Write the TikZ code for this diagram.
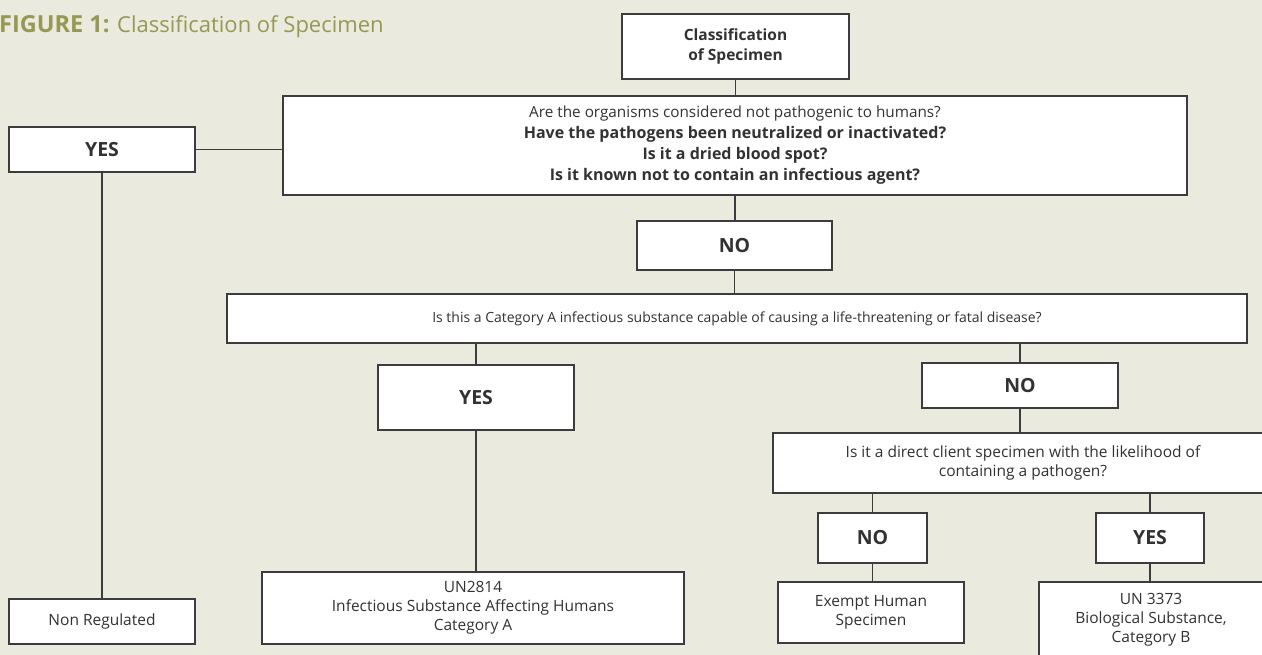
\documentclass[tikz,border=0pt]{standalone}
\usepackage{fontspec}
\setmainfont{Open Sans}
\definecolor{bgc}{RGB}{235,234,222}
\definecolor{linec}{RGB}{60,60,60}
\definecolor{textc}{RGB}{50,50,50}
\definecolor{titlec}{RGB}{150,152,84}
\tikzset{
  box/.style={draw=linec, fill=white, line width=1.1pt, inner sep=0pt, align=center, text=textc,
    font=\fontsize{15.5}{19}\selectfont},
  boldbox/.style={box, font=\fontsize{15.5}{20.5}\selectfont\bfseries},
  answer/.style={box, font=\fontsize{19.5}{22}\selectfont\bfseries},
  conn/.style={draw=linec, line width=1.1pt}
}
\begin{document}
\begin{tikzpicture}[x=1pt,y=-1pt]
\fill[bgc] (0,0) rectangle (1262,655);
\useasboundingbox (0,0) rectangle (1262,655);
\clip (0,0) rectangle (1262,655);

\node[anchor=base west, text=titlec, font=\fontsize{22}{26}\selectfont, inner sep=0pt] (title) at (-1,33)
  {{\fontsize{23.5}{26}\selectfont\bfseries FIGURE 1:} Classification of Specimen};

\node[boldbox, minimum width=227, minimum height=65] (cls) at (735.5,46.5) {Classification\\of Specimen};
\node[box, minimum width=904, minimum height=99, font=\fontsize{15.3}{21}\selectfont] (q1) at (735,145.5)
  {Are the organisms considered not pathogenic to humans?\\
   {\fontsize{16}{21}\selectfont\bfseries Have the pathogens been neutralized or inactivated?}\\
   {\fontsize{16}{21}\selectfont\bfseries Is it a dried blood spot?}\\
   {\fontsize{16}{21}\selectfont\bfseries Is it known not to contain an infectious agent?}};
\node[answer, minimum width=186, minimum height=45] (yesL) at (102,149.5) {YES};
\node[box, minimum width=186, minimum height=45] (nonreg) at (102,621.5) {Non Regulated};
\node[answer, minimum width=195, minimum height=49] (no1) at (734.5,245.5) {NO};
\node[box, minimum width=1020, minimum height=49, font=\fontsize{14}{18}\selectfont] (catA) at (737,318.5)
  {Is this a Category A infectious substance capable of causing a life-threatening or fatal disease?};
\node[answer, minimum width=196, minimum height=65] (yesA) at (476,397.5) {YES};
\node[box, minimum width=422, minimum height=72] (un2814) at (473,608)
  {UN2814\\Infectious Substance Affecting Humans\\Category A};
\node[answer, minimum width=196, minimum height=45] (noB) at (1020,385.5) {NO};
\node[box, minimum width=500, minimum height=60] (direct) at (1023,463)
  {Is it a direct client specimen with the likelihood of\\containing a pathogen?};
\node[answer, minimum width=109, minimum height=50] (noC) at (872.5,538) {NO};
\node[answer, minimum width=108, minimum height=50] (yesC) at (1150,538) {YES};
\node[box, minimum width=186, minimum height=61] (exempt) at (871,612.5) {Exempt Human\\Specimen};
\node[box, minimum width=224, minimum height=76] (un3373) at (1151,620)
  {UN 3373\\Biological Substance,\\Category B};

\draw[conn] (cls.south) -- (cls.south |- q1.north);
\draw[conn] (yesL.east) -- (yesL.east -| q1.west);
\draw[conn] (yesL.south) -- (nonreg.north);
\draw[conn] (q1.south) -- (q1.south |- no1.north);
\draw[conn] (no1.south) -- (no1.south |- catA.north);
\draw[conn] (catA.south -| yesA.north) -- (yesA.north);
\draw[conn] (yesA.south) -- (yesA.south |- un2814.north);
\draw[conn] (catA.south -| noB.north) -- (noB.north);
\draw[conn] (noB.south) -- (noB.south |- direct.north);
\draw[conn] (direct.south -| noC.north) -- (noC.north);
\draw[conn] (direct.south -| yesC.north) -- (yesC.north);
\draw[conn] (noC.south) -- (noC.south |- exempt.north);
\draw[conn] (yesC.south) -- (yesC.south |- un3373.north);
\end{tikzpicture}
\end{document}
